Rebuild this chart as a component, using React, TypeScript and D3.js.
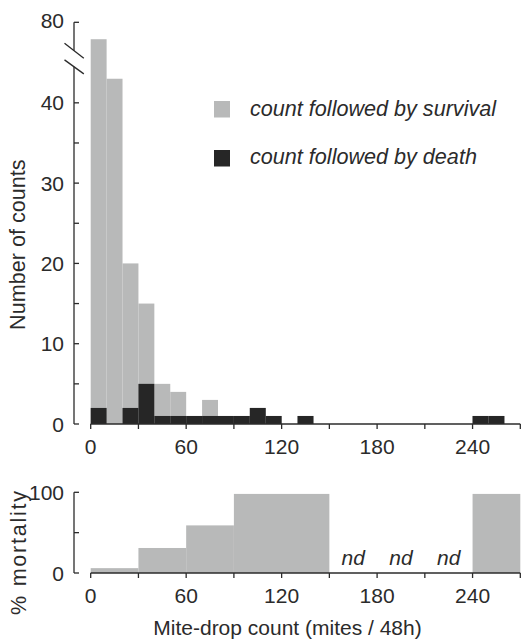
import React from 'react';
import * as d3 from 'd3';

// Histogram bins (10 mites wide)
const binStarts = [0, 10, 20, 30, 40, 50, 60, 70, 80, 90, 100, 110, 120, 130, 140, 150, 160, 170, 180, 190, 200, 210, 220, 230, 240, 250, 260];
const totalCounts = [74, 43, 20, 15, 5, 4, 1, 3, 1, 1, 2, 1, 0, 1, 0, 0, 0, 0, 0, 0, 0, 0, 0, 0, 1, 1, 0];
const deathCounts = [2, 0, 2, 5, 1, 1, 1, 1, 1, 1, 2, 1, 0, 1, 0, 0, 0, 0, 0, 0, 0, 0, 0, 0, 1, 1, 0];

// Mortality bins
const mortStart = [0, 30, 60, 90, 150, 180, 210, 240];
const mortEnd = [30, 60, 90, 150, 180, 210, 240, 270];
const mortValue: (number | null)[] = [6, 31, 59, 98, null, null, null, 98];

const xTicks = [0, 30, 60, 90, 120, 150, 180, 210, 240, 270];
const xTickLabels = [0, 60, 120, 180, 240];
const yTicksLower = [0, 5, 10, 15, 20, 25, 30, 35, 40];
const yTickLabelsLower = [0, 10, 20, 30, 40];
const yTicksUpper = [80];
const mortTicks = [0, 50, 100];
const mortTickLabels = [0, 100];

const legendLabels = ['count followed by survival', 'count followed by death'];

const GREY = '#b8b9b9';
const DARK = '#262626';
const INK = '#2b2b2b';
const FONT = '"Liberation Sans", Arial, Helvetica, sans-serif';

export default function App() {
  const x = d3.scaleLinear().domain([0, 270]).range([90.7, 520.3]);
  // broken axis: linear to 44.5, gap, then upper section
  const yTop = d3.scaleLinear().domain([0, 44.5, 70, 80]).range([424, 66.7, 50.5, 22.3]);
  const yBot = d3.scaleLinear().domain([0, 100]).range([573, 492.3]);
  const axisX = 74;
  const binW = 10;

  const fs = 21;

  return (
    <svg width={522} height={641} style={{ position: 'absolute', left: 0, top: 0 }} fontFamily={FONT}>
      <rect x={0} y={0} width={522} height={641} fill="#fff" />
      {/* Top histogram: totals (grey) */}
      {binStarts.map((b, i) =>
        totalCounts[i] > 0 ? (
          <rect key={'g' + i} x={x(b)} y={yTop(totalCounts[i])} width={x(b + binW) - x(b)} height={yTop(0) - yTop(totalCounts[i])} fill={GREY} />
        ) : null
      )}
      {binStarts.map((b, i) =>
        deathCounts[i] > 0 ? (
          <rect key={'d' + i} x={x(b)} y={yTop(deathCounts[i])} width={x(b + binW) - x(b)} height={yTop(0) - yTop(deathCounts[i])} fill={DARK} />
        ) : null
      )}

      {/* Top y axis */}
      <g stroke={INK} strokeWidth={1.3} fill="none">
        <line x1={axisX} x2={axisX} y1={yTop(0)} y2={yTop(44.5)} />
        <line x1={axisX} x2={axisX} y1={yTop(70)} y2={yTop(80)} />
        {yTicksLower.map((t) => (
          <line key={'yt' + t} x1={axisX} x2={axisX + 5} y1={yTop(t)} y2={yTop(t)} />
        ))}
        {yTicksUpper.map((t) => (
          <line key={'yu' + t} x1={axisX} x2={axisX + 5} y1={yTop(t)} y2={yTop(t)} />
        ))}
        {/* break marks */}
        <line x1={axisX - 9.5} x2={axisX + 9.8} y1={yTop(70) - 7.3} y2={yTop(70) + 7.7} />
        <line x1={axisX - 9.5} x2={axisX + 9.8} y1={yTop(44.5) - 6.8} y2={yTop(44.5) + 7.2} />
      </g>
      {yTickLabelsLower.map((t) => (
        <text key={'yl' + t} x={64} y={yTop(t) + 7.5} textAnchor="end" fontSize={fs} fill={INK}>{t}</text>
      ))}
      {yTicksUpper.map((t) => (
        <text key={'yul' + t} x={64} y={yTop(t) + 5.5} textAnchor="end" fontSize={fs} fill={INK}>{t}</text>
      ))}
      <text transform="translate(24.5,244.7) rotate(-90)" textAnchor="middle" fontSize={21.6} fill={INK}>Number of counts</text>

      {/* Top x axis */}
      <g stroke={INK} strokeWidth={1.3}>
        <line x1={x(0)} x2={x(270)} y1={yTop(0)} y2={yTop(0)} />
        {xTicks.map((t) => (
          <line key={'xt' + t} x1={x(t)} x2={x(t)} y1={yTop(0)} y2={yTop(0) + 5} />
        ))}
      </g>
      {xTickLabels.map((t) => (
        <text key={'xl' + t} x={x(t)} y={454} textAnchor="middle" fontSize={fs} fill={INK}>{t}</text>
      ))}

      {/* Legend */}
      <rect x={214} y={101} width={16} height={16.5} fill={GREY} />
      <rect x={214} y={150} width={16} height={16.5} fill={DARK} />
      <text x={250} y={115.7} fontSize={21.6} fontStyle="italic" fill={INK}>{legendLabels[0]}</text>
      <text x={250} y={164.3} fontSize={21.6} fontStyle="italic" fill={INK}>{legendLabels[1]}</text>

      {/* Bottom: mortality */}
      {mortStart.map((s, i) => {
        const v = mortValue[i];
        if (v === null) {
          return (
            <text key={'nd' + i} x={x((s + mortEnd[i]) / 2)} y={565} textAnchor="middle" fontSize={fs} fontStyle="italic" fill={INK}>nd</text>
          );
        }
        return <rect key={'m' + i} x={x(s)} y={yBot(v)} width={x(mortEnd[i]) - x(s)} height={yBot(0) - yBot(v)} fill={GREY} />;
      })}
      <g stroke={INK} strokeWidth={1.3}>
        <line x1={axisX} x2={axisX} y1={yBot(0)} y2={yBot(100)} />
        {mortTicks.map((t) => (
          <line key={'mt' + t} x1={axisX} x2={axisX + 5} y1={yBot(t)} y2={yBot(t)} />
        ))}
        <line x1={x(0)} x2={x(270)} y1={yBot(0)} y2={yBot(0)} />
        {xTicks.map((t) => (
          <line key={'bxt' + t} x1={x(t)} x2={x(t)} y1={yBot(0)} y2={yBot(0) + 5} />
        ))}
      </g>
      {mortTickLabels.map((t) => (
        <text key={'ml' + t} x={64} y={yBot(t) + 7.5} textAnchor="end" fontSize={fs} fill={INK}>{t}</text>
      ))}
      {xTickLabels.map((t) => (
        <text key={'bxl' + t} x={x(t)} y={603} textAnchor="middle" fontSize={fs} fill={INK}>{t}</text>
      ))}
      <text transform="translate(26,553) rotate(-90)" textAnchor="middle" fontSize={21.6} textLength={124} lengthAdjust="spacing" fill={INK}>% mortality</text>
      <text x={287.5} y={635} textAnchor="middle" fontSize={fs} fill={INK}>Mite-drop count (mites / 48h)</text>
    </svg>
  );
}
